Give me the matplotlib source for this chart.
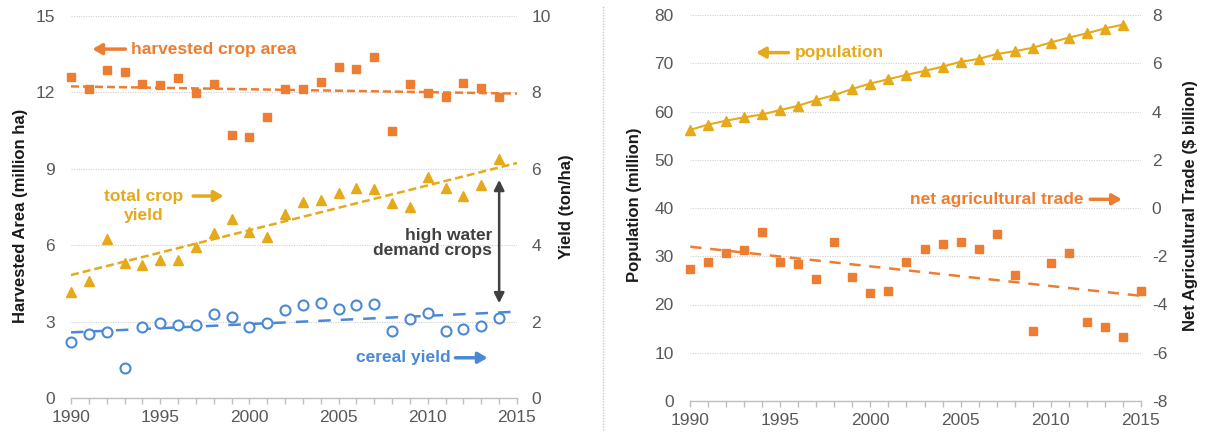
import numpy as np
import matplotlib
matplotlib.use("Agg")
import matplotlib.pyplot as plt
from matplotlib.lines import Line2D
from matplotlib.ticker import MultipleLocator

plt.rcParams["font.family"] = ["Liberation Sans", "DejaVu Sans"]
plt.rcParams["axes.unicode_minus"] = False

# ---------------- data ----------------
years = list(range(1990, 2015))          # 1990-2014
years_trade = list(range(1990, 2016))    # 1990-2015

harvested_area = [12.59, 12.13, 12.88, 12.80, 12.32, 12.28, 12.58, 11.99, 12.32,
                  10.34, 10.26, 11.03, 12.12, 12.13, 12.42, 13.01, 12.93, 13.40,
                  10.48, 12.33, 11.99, 11.83, 12.38, 12.16, 11.81]
total_crop_yield = [2.77, 3.07, 4.15, 3.53, 3.48, 3.61, 3.61, 3.94, 4.31, 4.69,
                    4.35, 4.21, 4.82, 5.14, 5.18, 5.37, 5.49, 5.46, 5.11, 5.01,
                    5.78, 5.49, 5.29, 5.58, 6.25]
cereal_yield = [1.47, 1.67, 1.73, 0.78, 1.86, 1.96, 1.91, 1.91, 2.19, 2.11,
                1.87, 1.96, 2.30, 2.43, 2.48, 2.34, 2.43, 2.47, 1.76, 2.06,
                2.22, 1.76, 1.80, 1.88, 2.10]
population = [56.2, 57.3, 58.1, 58.8, 59.4, 60.3, 61.2, 62.4, 63.4, 64.7,
              65.8, 66.7, 67.6, 68.4, 69.3, 70.3, 70.9, 71.9, 72.5, 73.2,
              74.3, 75.3, 76.2, 77.2, 78.0]
net_ag_trade = [-2.53, -2.22, -1.85, -1.74, -0.98, -2.25, -2.34, -2.94, -1.40,
                -2.85, -3.54, -3.44, -2.22, -1.71, -1.51, -1.40, -1.71, -1.08,
                -2.78, -5.10, -2.29, -1.85, -4.74, -4.92, -5.36, -3.44]

x_ticks = [1990, 1995, 2000, 2005, 2010, 2015]

# ---------------- style ----------------
ORANGE = "#ED7D31"
GOLD = "#E6A91A"
BLUE = "#4A89D6"
DARK = "#404040"
TICK_C = "#595959"
SPINE_C = "#BFBFBF"
GRID_C = "#CFCFCF"
FS = 12.5

W, H = 1206, 432
fig = plt.figure(figsize=(W / 100, H / 100), dpi=100)


def fx(px):
    return px / W


def fy(py):
    return 1 - py / H


def trend(xs, ys, x0=1990, x1=2015):
    k, b = np.polyfit(xs, ys, 1)
    xx = np.array([x0, x1])
    return xx, k * xx + b


def style_base(ax, ylim, ystep, left_pad):
    ax.set_xlim(1990, 2015)
    ax.set_ylim(*ylim)
    ax.set_xticks(x_ticks)
    ax.xaxis.set_minor_locator(MultipleLocator(1))
    ax.yaxis.set_major_locator(MultipleLocator(ystep))
    for s in ("left", "right", "top"):
        ax.spines[s].set_visible(False)
    ax.spines["bottom"].set_color(SPINE_C)
    ax.spines["bottom"].set_linewidth(1.0)
    ax.tick_params(axis="x", which="both", direction="out", length=4.5,
                   color=SPINE_C, width=1.0, labelsize=FS, labelcolor=TICK_C, pad=4)
    ax.tick_params(axis="y", length=0, labelsize=FS, labelcolor=TICK_C, pad=left_pad)
    ax.grid(axis="y", linestyle=(0, (1, 1.2)), color=GRID_C, linewidth=0.8)
    ax.set_axisbelow(True)


def style_twin(ax, ylim, ystep, pad):
    ax.set_ylim(*ylim)
    ax.yaxis.set_major_locator(MultipleLocator(ystep))
    for s in ax.spines.values():
        s.set_visible(False)
    ax.tick_params(axis="y", length=0, labelsize=FS, labelcolor=TICK_C, pad=pad)


ARROW = "-|>,head_length=0.55,head_width=0.32"

# ================= left panel =================
axL = fig.add_axes([fx(71), fy(398), fx(517) - fx(71), fy(16) - fy(398)])
style_base(axL, (0, 15), 3, 11.5)
axL2 = axL.twinx()
style_twin(axL2, (0, 10), 2, 10.5)

# harvested crop area (left axis)
axL.plot(*trend(years, harvested_area), color=ORANGE, lw=1.8, ls=(0, (3.2, 1.6)), zorder=2)
axL.plot(years, harvested_area, ls="none", marker="s", ms=6.2, color=ORANGE,
         zorder=3, clip_on=False)

# total crop yield and cereal yield (right axis)
axL2.plot(*trend(years, total_crop_yield), color=GOLD, lw=1.8, ls=(0, (3.2, 1.6)), zorder=2)
axL2.plot(years, total_crop_yield, ls="none", marker="^", ms=7.5, color=GOLD,
          zorder=3, clip_on=False)
axL2.plot(*trend(years, cereal_yield), color=BLUE, lw=1.8, ls=(0, (5, 4)), zorder=2)
axL2.plot(years, cereal_yield, ls="none", marker="o", ms=7.2, mfc="white",
          mec=BLUE, mew=1.5, zorder=3, clip_on=False)

# annotations
axL.annotate("", xy=(1991.2, 13.70), xytext=(1993.05, 13.70),
             arrowprops=dict(arrowstyle=ARROW, color=ORANGE, lw=2.5, shrinkA=0, shrinkB=0))
axL.text(1993.35, 13.70, "harvested crop area", color=ORANGE, fontsize=FS,
         fontweight="bold", ha="left", va="center")

axL.text(1994.05, 7.93, "total crop", color=GOLD, fontsize=FS,
         fontweight="bold", ha="center", va="center")
axL.text(1994.05, 7.18, "yield", color=GOLD, fontsize=FS,
         fontweight="bold", ha="center", va="center")
axL.annotate("", xy=(1998.55, 7.93), xytext=(1996.85, 7.93),
             arrowprops=dict(arrowstyle=ARROW, color=GOLD, lw=2.5, shrinkA=0, shrinkB=0))

axL.text(2008.6, 1.58, "cereal yield", color=BLUE, fontsize=FS,
         fontweight="bold", ha="center", va="center")
axL.annotate("", xy=(2013.35, 1.58), xytext=(2011.55, 1.58),
             arrowprops=dict(arrowstyle=ARROW, color=BLUE, lw=2.5, shrinkA=0, shrinkB=0))

axL.text(2013.6, 6.09, "high water\ndemand crops", color=DARK, fontsize=FS,
         fontweight="bold", ha="right", va="center", multialignment="right",
         linespacing=1.05)
axL2.annotate("", xy=(2014, 5.71), xytext=(2014, 2.48),
              arrowprops=dict(arrowstyle="<|-|>,head_length=0.6,head_width=0.3",
                              color=DARK, lw=1.8, shrinkA=0, shrinkB=0))

fig.text(fx(21), fy(216), "Harvested Area (million ha)", rotation=90,
         fontsize=12, fontweight="bold", ha="center", va="center", color="#1A1A1A")
fig.text(fx(566), fy(207), "Yield (ton/ha)", rotation=90,
         fontsize=12, fontweight="bold", ha="center", va="center", color="#1A1A1A")

# ================= right panel =================
axR = fig.add_axes([fx(690.3), fy(401), fx(1140.7) - fx(690.3), fy(15) - fy(401)])
style_base(axR, (0, 80), 10, 12)
axR2 = axR.twinx()
style_twin(axR2, (-8, 8), 2, 8)

axR.plot(years, population, color=GOLD, lw=1.5, marker="^", ms=7.5, zorder=3,
         clip_on=False)
axR2.plot(*trend(years_trade, net_ag_trade), color=ORANGE, lw=1.8,
          ls=(0, (4.5, 3.5)), zorder=2)
axR2.plot(years_trade, net_ag_trade, ls="none", marker="s", ms=6.0, color=ORANGE,
          zorder=3, clip_on=False)

axR.annotate("", xy=(1993.65, 72.2), xytext=(1995.45, 72.2),
             arrowprops=dict(arrowstyle=ARROW, color=GOLD, lw=2.5, shrinkA=0, shrinkB=0))
axR.text(1995.8, 72.2, "population", color=GOLD, fontsize=FS,
         fontweight="bold", ha="left", va="center")

axR.text(2011.8, 41.8, "net agricultural trade", color=ORANGE, fontsize=FS,
         fontweight="bold", ha="right", va="center")
axR.annotate("", xy=(2013.95, 41.8), xytext=(2012.2, 41.8),
             arrowprops=dict(arrowstyle=ARROW, color=ORANGE, lw=2.5, shrinkA=0, shrinkB=0))

fig.text(fx(635), fy(205), "Population (million)", rotation=90,
         fontsize=12, fontweight="bold", ha="center", va="center", color="#1A1A1A")
fig.text(fx(1190), fy(206), "Net Agricultural Trade ($ billion)", rotation=90,
         fontsize=12, fontweight="bold", ha="center", va="center", color="#1A1A1A")

# dotted divider between the two panels
fig.add_artist(Line2D([fx(603), fx(603)], [fy(430), fy(5)], transform=fig.transFigure,
                      color="#C8C8C8", lw=1.0, ls=(0, (1, 1))))

fig.savefig("out.png", dpi=100, facecolor="white")
